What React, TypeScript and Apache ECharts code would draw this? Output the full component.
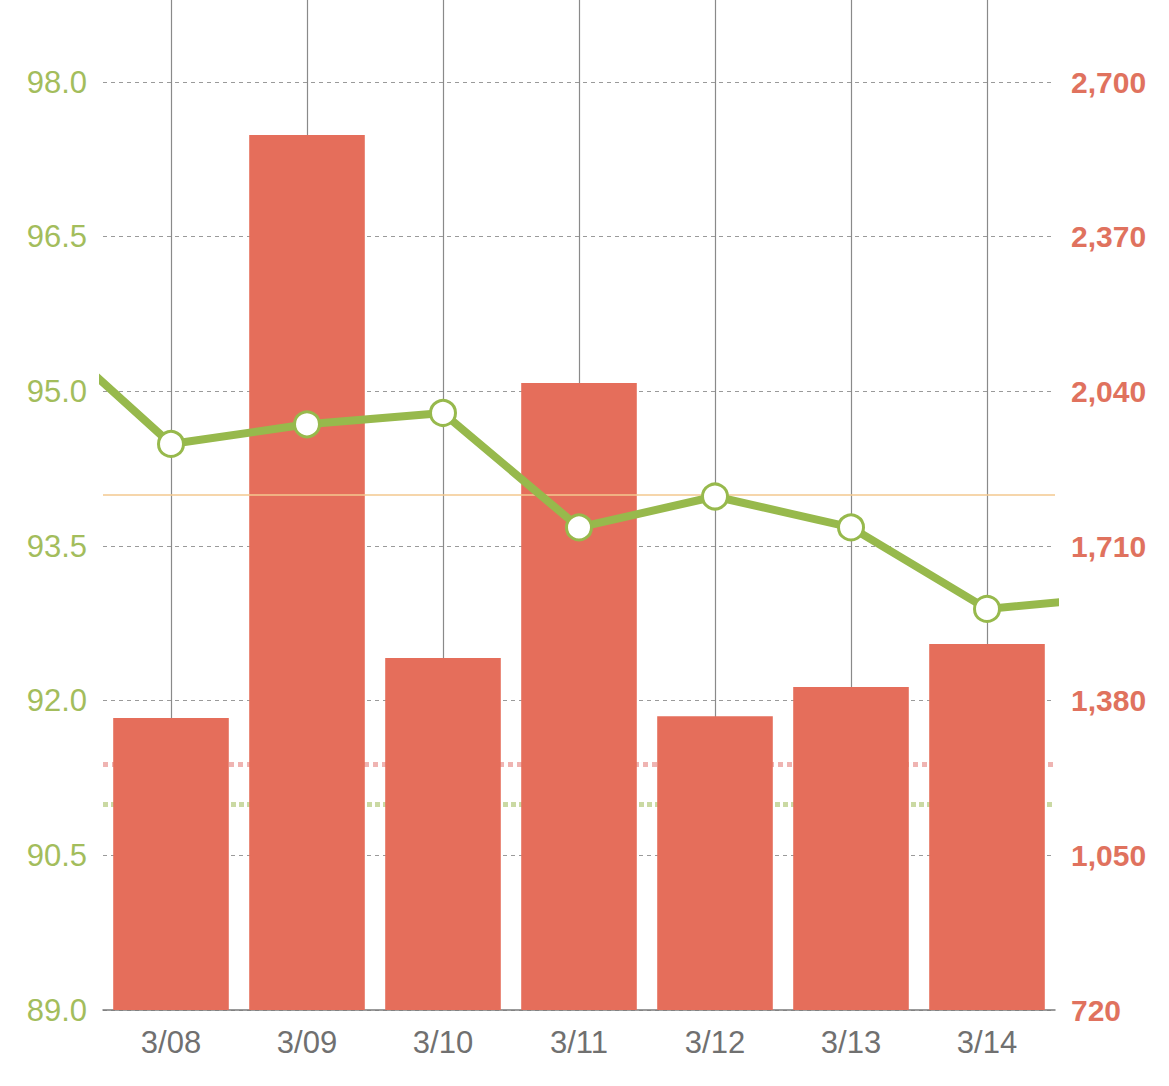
import React, { useEffect, useRef } from "react";
import * as echarts from "echarts";

const categories = ["3/08", "3/09", "3/10", "3/11", "3/12", "3/13", "3/14"];
const barValues = [1343, 2587, 1471, 2058, 1347, 1409, 1501];
const lineValues = [94.49, 94.68, 94.79, 93.68, 93.98, 93.68, 92.89];
const linePrevValue = 95.68;
const lineNextValue = 93.01;
const leftTicks = [89.0, 90.5, 92.0, 93.5, 95.0, 96.5, 98.0];
const rightTicks = [720, 1050, 1380, 1710, 2040, 2370, 2700];
const lineTarget = 94.0;
const lineBaseline = 91.0;
const barBaseline = 1245;

const FONT = "'Liberation Sans', Arial, sans-serif";

export default function App() {
  const ref = useRef<HTMLDivElement>(null);
  useEffect(() => {
    if (!ref.current) return;
    const chart = echarts.init(ref.current, null, { renderer: "svg" });
    const lineData: [number, number][] = [
      [-1, linePrevValue],
      ...lineValues.map((v, i) => [i, v] as [number, number]),
      [lineValues.length, lineNextValue],
    ];
    const leftInterval = leftTicks[1] - leftTicks[0];
    const rightInterval = rightTicks[1] - rightTicks[0];
    chart.setOption({
      animation: false,
      backgroundColor: "#ffffff",
      grid: { left: 103, right: 114, top: 82, bottom: 76, containLabel: false },
      xAxis: [
        {
          type: "category",
          data: categories,
          boundaryGap: true,
          axisLine: { show: true, lineStyle: { color: "#7a7a7a", width: 1.5 } },
          axisTick: {
            show: true,
            alignWithLabel: true,
            inside: true,
            length: 1010,
            lineStyle: { color: "#8a8a8a", width: 1.2 },
          },
          axisLabel: { color: "#707070", fontSize: 31, fontFamily: FONT, margin: 17 },
          splitLine: { show: false },
        },
        {
          type: "value",
          show: false,
          min: -0.5,
          max: categories.length - 0.5,
          splitLine: { show: false },
        },
      ],
      yAxis: [
        {
          type: "value",
          min: leftTicks[0],
          max: leftTicks[leftTicks.length - 1],
          interval: leftInterval,
          position: "left",
          axisLine: { show: false },
          axisTick: { show: false },
          axisLabel: {
            color: "#a3bd5c",
            fontSize: 31,
            fontFamily: FONT,
            margin: 16,
            formatter: (v: number) => v.toFixed(1),
          },
          splitLine: { show: true, lineStyle: { color: "#9a9a9a", type: [4, 4], width: 1 } },
        },
        {
          type: "value",
          min: rightTicks[0],
          max: rightTicks[rightTicks.length - 1],
          interval: rightInterval,
          position: "right",
          axisLine: { show: false },
          axisTick: { show: false },
          axisLabel: {
            color: "#e0725e",
            fontSize: 30,
            fontWeight: "bold",
            fontFamily: FONT,
            margin: 16,
            formatter: (v: number) => v.toLocaleString("en-US"),
          },
          splitLine: { show: false },
        },
      ],
      series: [
        {
          type: "bar",
          name: "bars",
          xAxisIndex: 0,
          yAxisIndex: 1,
          data: barValues,
          barWidth: "85%",
          itemStyle: { color: "#e56e5b" },
          z: 2,
          silent: true,
          markLine: {
            silent: true,
            z: 1,
            symbol: "none",
            label: { show: false },
            lineStyle: { color: "#efb4b2", type: [5, 4], width: 5 },
            data: [{ yAxis: barBaseline }],
          },
        },
        {
          type: "line",
          name: "baseline",
          xAxisIndex: 1,
          yAxisIndex: 0,
          data: lineData,
          symbol: "none",
          lineStyle: { opacity: 0 },
          silent: true,
          z: 1,
          markLine: {
            silent: true,
            z: 1,
            symbol: "none",
            label: { show: false },
            lineStyle: { color: "#cad9a3", type: [5, 3], width: 5 },
            data: [{ yAxis: lineBaseline }],
          },
        },
        {
          type: "line",
          name: "line",
          xAxisIndex: 1,
          yAxisIndex: 0,
          data: lineData,
          clip: true,
          symbol: "circle",
          symbolSize: 25,
          showAllSymbol: true,
          lineStyle: { color: "#97b94c", width: 8 },
          itemStyle: { color: "#ffffff", borderColor: "#97b94c", borderWidth: 3 },
          z: 4,
          silent: true,
          markLine: {
            silent: true,
            z: 3,
            symbol: "none",
            label: { show: false },
            lineStyle: { color: "#f3c98f", type: "solid", width: 1.5 },
            data: [{ yAxis: lineTarget }],
          },
        },
      ],
    });
    return () => chart.dispose();
  }, []);
  return (
    <div
      ref={ref}
      style={{ position: "fixed", left: 0, top: 0, width: 1169, height: 1086, background: "#fff" }}
    />
  );
}
